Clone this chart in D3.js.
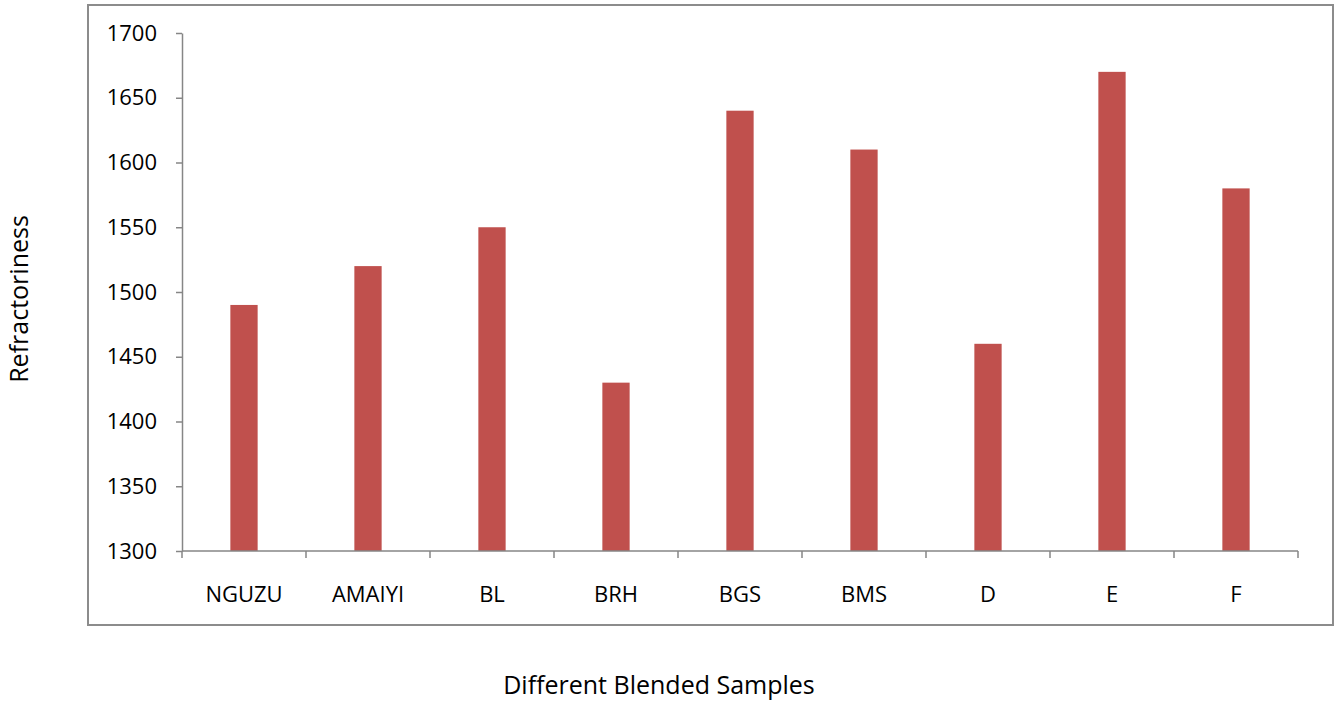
<!DOCTYPE html>
<html>
<head>
<meta charset="utf-8">
<script src="https://cdn.jsdelivr.net/npm/d3@7"></script>
<style>
  html, body { margin: 0; padding: 0; background: #fff; }
  svg { display: block; font-family: "Open Sans", Lato, sans-serif; }
</style>
</head>
<body>
<svg id="chart" width="1335" height="703"></svg>
<script>
// Refractoriness of each blended sample
const categories = ["NGUZU", "AMAIYI", "BL", "BRH", "BGS", "BMS", "D", "E", "F"];
const values = [1490, 1520, 1550, 1430, 1640, 1610, 1460, 1670, 1580];
const yTicks = [1300, 1350, 1400, 1450, 1500, 1550, 1600, 1650, 1700];

const svg = d3.select("#chart");
const axisColor = "#868686";
const barColor = "#C0504D";
const tickFont = "22px";
const titleFont = "25px";

// outer chart frame
svg.append("rect")
  .attr("x", 88).attr("y", 5)
  .attr("width", 1245).attr("height", 620)
  .attr("fill", "none")
  .attr("stroke", "#8c8c8c")
  .attr("stroke-width", 2);

const plot = { left: 182, right: 1298, top: 33, bottom: 551 };

const x = d3.scaleBand()
  .domain(categories)
  .range([plot.left, plot.right])
  .padding(0);

const y = d3.scaleLinear()
  .domain([1300, 1700])
  .range([plot.bottom, plot.top]);

// bars
const barW = x.bandwidth() * 0.22;
svg.append("g")
  .selectAll("rect")
  .data(categories.map((c, i) => ({ c, v: values[i] })))
  .join("rect")
  .attr("x", d => x(d.c) + x.bandwidth() / 2 - barW / 2)
  .attr("y", d => y(d.v))
  .attr("width", barW)
  .attr("height", d => y(1300) - y(d.v))
  .attr("fill", barColor);

// y axis
const yAxis = svg.append("g")
  .attr("transform", `translate(${plot.left},0)`)
  .call(d3.axisLeft(y).tickValues(yTicks).tickFormat(d3.format("d"))
    .tickSize(6).tickPadding(19).tickSizeOuter(0));
yAxis.select(".domain").attr("stroke", axisColor).attr("stroke-width", 1.5);
yAxis.selectAll(".tick line").attr("stroke", axisColor).attr("stroke-width", 1.5);
yAxis.selectAll(".tick text")
  .attr("fill", "#000")
  .style("font-size", tickFont)
  .style("font-family", "'Open Sans', sans-serif");

// x axis: ticks at category boundaries, labels centered in each band
const xg = svg.append("g").attr("transform", `translate(0,${plot.bottom})`);
xg.append("line")
  .attr("x1", plot.left).attr("x2", plot.right)
  .attr("stroke", axisColor).attr("stroke-width", 1.5);
const boundaries = categories.map(c => x(c)).concat([x(categories[categories.length - 1]) + x.bandwidth()]);
xg.selectAll("line.tick")
  .data(boundaries)
  .join("line")
  .attr("class", "tick")
  .attr("x1", d => d).attr("x2", d => d)
  .attr("y1", 0).attr("y2", 7)
  .attr("stroke", axisColor).attr("stroke-width", 1.5);
xg.selectAll("text")
  .data(categories)
  .join("text")
  .attr("x", d => x(d) + x.bandwidth() / 2)
  .attr("y", 51)
  .attr("text-anchor", "middle")
  .style("font-size", tickFont)
  .text(d => d);

// axis titles
svg.append("text")
  .attr("transform", "translate(28,299) rotate(-90)")
  .attr("text-anchor", "middle")
  .style("font-size", titleFont)
  .text("Refractoriness");

svg.append("text")
  .attr("x", 659).attr("y", 694)
  .attr("text-anchor", "middle")
  .style("font-size", titleFont)
  .text("Different Blended Samples");
</script>
</body>
</html>
